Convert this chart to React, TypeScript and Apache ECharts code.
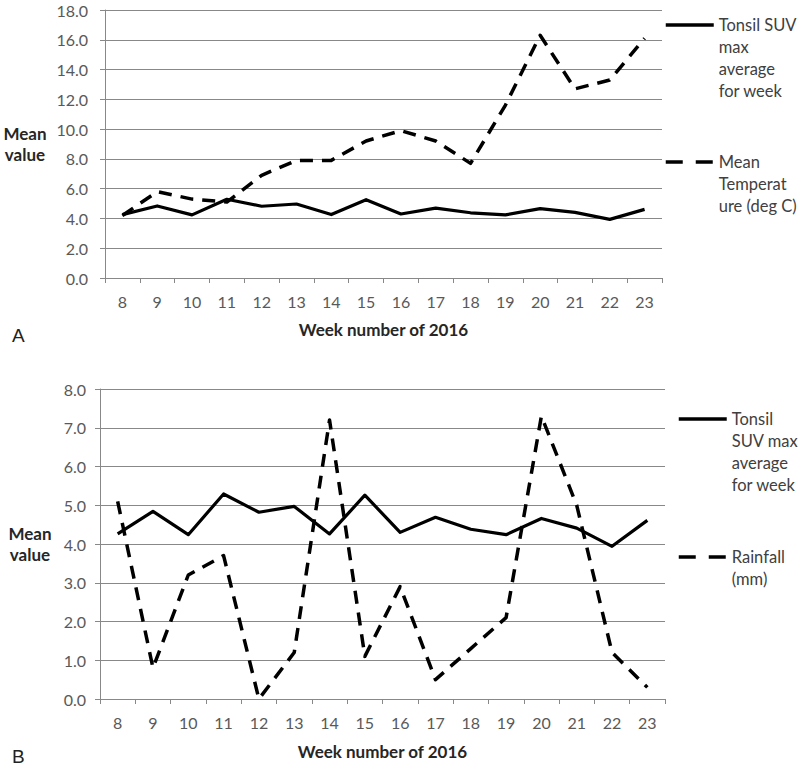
import React, { useEffect, useRef } from "react";
import * as echarts from "echarts";

const weeks = ["8", "9", "10", "11", "12", "13", "14", "15", "16", "17", "18", "19", "20", "21", "22", "23"];
const tonsilSuv = [4.26, 4.84, 4.24, 5.29, 4.82, 4.97, 4.26, 5.26, 4.3, 4.69, 4.38, 4.24, 4.66, 4.41, 3.94, 4.61];
const meanTemperature = [4.2, 5.8, 5.3, 5.1, 6.9, 7.9, 7.9, 9.2, 9.9, 9.2, 7.7, 11.6, 16.3, 12.7, 13.3, 16.1];
const rainfall = [5.1, 0.8, 3.2, 3.7, 0.0, 1.2, 7.2, 1.1, 2.9, 0.5, 1.3, 2.1, 7.3, 5.0, 1.2, 0.3];

const TONSIL = "Tonsil SUV max average for week";
const TEMP = "Mean Temperature (deg C)";
const RAIN = "Rainfall (mm)";

const FONT = "Lato";
const GRID_COLOR = "#888888";
const LABEL_COLOR = "#595959";
const TITLE_COLOR = "#262626";
const DASH = [13, 9];

function xAxisFor(gridIndex: number, gap: number) {
  return {
    type: "category",
    gridIndex,
    data: weeks,
    boundaryGap: true,
    axisLine: { show: true, lineStyle: { color: GRID_COLOR, width: 1 } },
    axisTick: { show: true, length: 5, lineStyle: { color: GRID_COLOR } },
    axisLabel: { interval: 0, margin: 15, color: LABEL_COLOR, fontFamily: FONT, fontSize: 16 },
    name: "Week number of 2016",
    nameLocation: "middle",
    nameGap: gap,
    nameTextStyle: { color: TITLE_COLOR, fontFamily: FONT, fontSize: 17, fontWeight: "bold" },
    splitLine: { show: false },
  };
}

function yAxisFor(gridIndex: number, max: number, interval: number, labelMargin: number, nameGap: number) {
  return {
    type: "value",
    gridIndex,
    min: 0,
    max,
    interval,
    axisLine: { show: true, lineStyle: { color: GRID_COLOR, width: 1 } },
    axisTick: { show: true, length: 5, lineStyle: { color: GRID_COLOR } },
    axisLabel: {
      margin: labelMargin,
      color: LABEL_COLOR,
      fontFamily: FONT,
      fontSize: 16,
      formatter: (v: number) => v.toFixed(1),
    },
    splitLine: { show: true, lineStyle: { color: GRID_COLOR, width: 1 } },
    name: "Mean\nvalue",
    nameLocation: "middle",
    nameRotate: 0,
    nameGap,
    nameTextStyle: {
      color: TITLE_COLOR,
      fontFamily: FONT,
      fontSize: 17,
      fontWeight: "bold",
      align: "center",
      lineHeight: 21,
    },
  };
}

function lineSeries(name: string, data: number[], idx: number, dashed: boolean) {
  return {
    name,
    type: "line",
    xAxisIndex: idx,
    yAxisIndex: idx,
    data,
    symbol: "none",
    showSymbol: false,
    color: "#000000",
    lineStyle: {
      color: "#000000",
      width: dashed ? 3.5 : 3.2,
      type: dashed ? DASH : "solid",
      join: "round",
      cap: "butt",
    },
    z: dashed ? 3 : 4,
  };
}

function legendFor(name: string, lines: string[], left: number, centerY: number, dashed: boolean) {
  const lh = 22;
  const pad = lines.length - 1;
  const text = "\n".repeat(pad) + lines.join("\n");
  const total = (pad + lines.length) * lh;
  return {
    data: [name],
    left,
    top: centerY - total / 2,
    padding: 0,
    itemWidth: 48,
    itemHeight: 14,
    selectedMode: false,
    formatter: () => text,
    itemStyle: { color: "rgba(0,0,0,0)", borderWidth: 0, opacity: 0 },
    lineStyle: { color: "#000000", width: 3.5, type: dashed ? [17, 13] : "solid", cap: "butt", opacity: 1 },
    textStyle: { color: "#404040", fontFamily: FONT, fontSize: 16.5, lineHeight: lh },
  };
}

export default function App() {
  const ref = useRef<HTMLDivElement>(null);
  useEffect(() => {
    if (!ref.current) return;
    const chart = echarts.init(ref.current, null, { renderer: "svg" });
    chart.setOption({
      animation: false,
      backgroundColor: "#ffffff",
      grid: [
        { left: 105, top: 10, width: 557, height: 268, containLabel: false },
        { left: 100, top: 389, width: 565, height: 310, containLabel: false },
      ],
      xAxis: [xAxisFor(0, 43), xAxisFor(1, 44)],
      yAxis: [yAxisFor(0, 18, 2, 17, 80), yAxisFor(1, 8, 1, 14, 70)],
      legend: [
        legendFor(TONSIL, ["Tonsil SUV", "max", "average", "for week"], 664, 25, false),
        legendFor(TEMP, ["Mean", "Temperat", "ure (deg C)"], 664, 162, true),
        legendFor(TONSIL, ["Tonsil", "SUV max", "average", "for week"], 677, 419, false),
        legendFor(RAIN, ["Rainfall", "(mm)"], 677, 557, true),
      ],
      graphic: [
        {
          type: "text",
          left: 12,
          top: 326,
          style: { text: "A", font: "19px 'Liberation Sans', Arial, sans-serif", fill: "#222222" },
        },
        {
          type: "text",
          left: 12,
          top: 747,
          style: { text: "B", font: "19px 'Liberation Sans', Arial, sans-serif", fill: "#222222" },
        },
      ],
      series: [
        lineSeries(TONSIL, tonsilSuv, 0, false),
        lineSeries(TEMP, meanTemperature, 0, true),
        lineSeries(TONSIL, tonsilSuv, 1, false),
        lineSeries(RAIN, rainfall, 1, true),
      ],
    });
    return () => chart.dispose();
  }, []);
  return (
    <div
      ref={ref}
      style={{ position: "absolute", left: 0, top: 0, width: 800, height: 768, background: "#fff" }}
    />
  );
}
